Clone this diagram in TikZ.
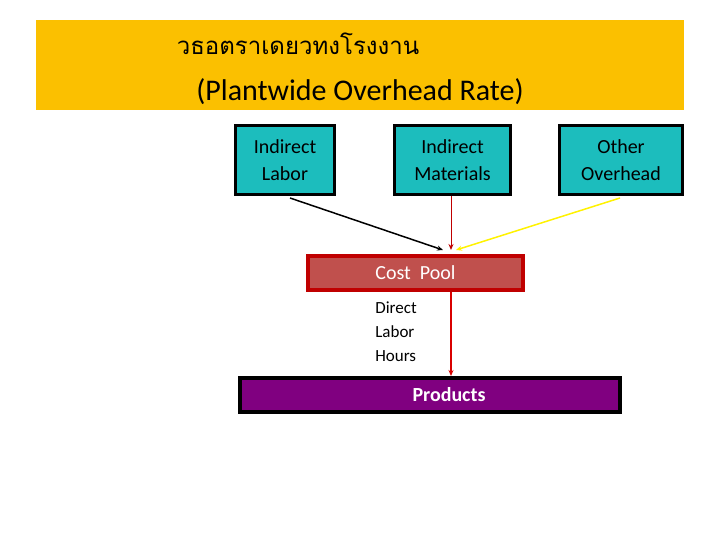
\documentclass[tikz,border=0pt]{standalone}
\usepackage{fontspec}
\setmainfont{Carlito}
\newfontfamily\thaifont[Script=Thai]{Loma}
\usetikzlibrary{arrows.meta}
\definecolor{banner}{HTML}{FBC000}
\definecolor{teal}{HTML}{1CBDBD}
\definecolor{poolfill}{HTML}{C0504D}
\definecolor{poolline}{HTML}{C00000}
\definecolor{prodfill}{HTML}{800080}
\tikzset{
  cost/.style={draw=black, line width=3pt, fill=teal, inner sep=0pt,
    minimum width=99pt, minimum height=69pt, align=center,
    font=\fontsize{20}{27}\selectfont},
  flow/.style={-{Stealth[length=6pt,width=5pt]}, line width=1.5pt}
}
\begin{document}
\begin{tikzpicture}[x=1pt,y=-1pt]
  \useasboundingbox (0,0) rectangle (720,540);
  \fill[banner] (36,20) rectangle (684,110);
  \node (thai) at (298,44) {\thaifont\fontsize{24}{28}\selectfont วธอตราเดยวทงโรงงาน};
  \node (title) at (360,92) {\fontsize{30}{36}\selectfont (Plantwide Overhead Rate)};

  \node[cost] (labor) at (285,160) {Indirect\\Labor};
  \node[cost, minimum width=116pt] (mat) at (452.5,160) {Indirect\\Materials};
  \node[cost, minimum width=123pt] (other) at (621,160) {Other\\Overhead};

  \node[draw=poolline, line width=4pt, fill=poolfill, text=white,
    minimum width=215pt, minimum height=34pt, inner sep=0pt,
    font=\fontsize{20}{24}\selectfont] (pool) at (415.5,273) {Cost\ \ Pool};
  \node[draw=black, line width=4pt, fill=prodfill, text=white,
    minimum width=380pt, minimum height=34pt, inner sep=0pt,
    font=\bfseries\fontsize{20}{24}\selectfont] (prod) at (430,395) {\hspace*{38pt}Products};
  \node[align=left, font=\fontsize{17}{24}\selectfont] (dlh) at (396,332) {Direct\\Labor\\Hours};

  \coordinate (lab-out) at (290,198);
  \coordinate (oth-out) at (620,198);
  \coordinate (in-a) at (443,250);
  \coordinate (in-b) at (451,250);
  \coordinate (in-c) at (456,250);
  \draw[flow, black] (lab-out) -- (in-a);
  \draw[flow, poolline, line width=1pt] (mat.south -| in-b) -- (in-b);
  \draw[flow, yellow] (oth-out) -- (in-c);
  \draw[flow, red!85!black] (pool.south -| in-b) -- (prod.north -| in-b);
\end{tikzpicture}
\end{document}
